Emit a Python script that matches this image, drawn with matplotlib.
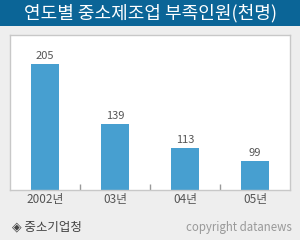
import matplotlib.pyplot as plt
import matplotlib.patches as patch

plt.rcParams["font.family"] = ["Noto Sans CJK KR", "DejaVu Sans"]

TITLE = "연도별 중소제조업 부족인원(천명)"
SOURCE = "◈ 중소기업청"
COPYRIGHT = "copyright datanews"

years = ["2002년", "03년", "04년", "05년"]
shortage = [205, 139, 113, 99]

BG = "#eeeeee"
HEADER = "#0b6597"
BAR = "#479fd0"
BORDER = "#c8c8c8"
TEXT = "#555555"

fig = plt.figure(figsize=(3.0, 2.4), dpi=100)
fig.patch.set_facecolor(BG)

# header band
fig.add_artist(
    patch.Rectangle((0, 1 - 26 / 240), 1, 26 / 240, transform=fig.transFigure,
                    facecolor=HEADER, edgecolor="none")
)
fig.text(0.5, 1 - 13.5 / 240, TITLE, color="white", fontsize=13,
         fontweight="medium", ha="center", va="center")

# plot area: x 10..290, y 35..190 px
ax = fig.add_axes([10 / 300, 1 - 190 / 240, 280 / 300, 155 / 240])
ax.set_facecolor("white")
for side in ax.spines.values():
    side.set_color(BORDER)
    side.set_linewidth(1)

x = range(len(years))
bars = ax.bar(x, shortage, width=0.41, color=BAR)
ax.set_xlim(-0.5, len(years) - 0.5)
ax.set_ylim(67.3, 236.7)

for b, v in zip(bars, shortage):
    ax.annotate(str(v), (b.get_x() + b.get_width() / 2, v),
                xytext=(0, 2.5), textcoords="offset points",
                ha="center", va="bottom", fontsize=8, color=TEXT)

ax.set_xticks(list(x))
ax.set_xticklabels(years, fontsize=8.5, color=TEXT)
ax.tick_params(axis="x", which="major", length=0, pad=2)
ax.set_xticks([i + 0.5 for i in range(len(years) - 1)], minor=True)
ax.tick_params(axis="x", which="minor", direction="in", length=4,
               color="#999999", width=1)
ax.set_yticks([])

fig.text(12 / 300, 1 - 227 / 240, SOURCE, fontsize=9, color="#444444",
         ha="left", va="center")
fig.text(292 / 300, 1 - 228 / 240, COPYRIGHT, fontsize=8.3, color="#999999",
         ha="right", va="center")

fig.savefig("out.png", dpi=100, facecolor=BG)
